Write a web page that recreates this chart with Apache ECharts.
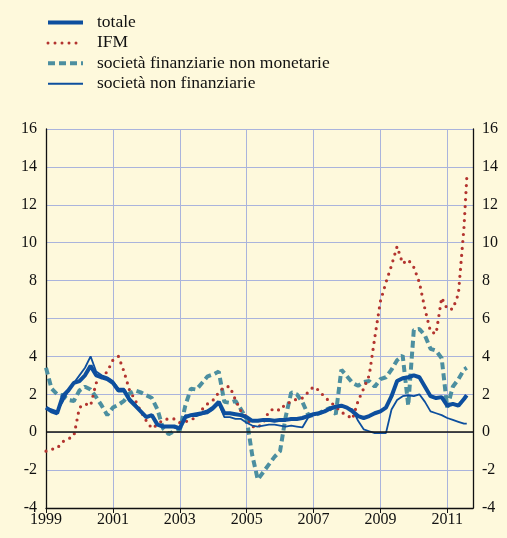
<!DOCTYPE html>
<html>
<head>
<meta charset="utf-8">
<script src="https://cdn.jsdelivr.net/npm/echarts@6/dist/echarts.min.js"></script>
<style>
html, body { margin: 0; padding: 0; background: #fef9dc; }
#main { width: 507px; height: 538px; }
</style>
</head>
<body>
<div id="main"></div>
<script>
// months since Jan 1999, sampled every two months up to Aug 2011
var startYear = 1999;
var months = [];
for (var m = 0; m <= 150; m += 2) months.push(m);
months.push(151);

var seriesNames = ['totale', 'IFM', 'società finanziarie non monetarie', 'società non finanziarie'];

var totale = [
    1.3, 1.1, 1.0, 1.9, 2.2, 2.6, 2.7, 3.0, 3.5, 3.0,
    2.9, 2.8, 2.6, 2.2, 2.2, 1.7, 1.4, 1.1, 0.8, 0.9,
    0.4, 0.3, 0.3, 0.3, 0.2, 0.8, 0.9, 0.95, 1.0, 1.1,
    1.3, 1.6, 1.0, 1.0, 0.95, 0.9, 0.8, 0.6, 0.6, 0.65,
    0.65, 0.6, 0.65, 0.65, 0.7, 0.7, 0.75, 0.85, 0.95, 1.0,
    1.1, 1.25, 1.35, 1.4, 1.3, 1.1, 0.85, 0.75, 0.85, 1.0,
    1.1, 1.3, 1.9, 2.7, 2.85, 2.9, 3.0, 2.9, 2.4, 1.9,
    1.8, 1.85, 1.4, 1.5, 1.4, 1.75, 1.95
];
var ifm = [
    -1.0, -0.9, -0.85, -0.5, -0.35, -0.2, 1.3, 1.5, 1.4, 2.6,
    2.9, 3.2, 3.8, 4.0, 3.2, 2.2, 1.7, 1.1, 0.6, 0.2,
    0.4, 0.65, 0.7, 0.7, 0.5, 0.55, 0.65, 0.8, 1.2, 1.5,
    1.7, 2.1, 2.4, 2.4, 1.7, 1.1, 0.8, 0.3, 0.25, 0.5,
    1.1, 1.25, 1.15, 1.5, 1.6, 1.75, 1.8, 2.1, 2.4, 2.2,
    1.85, 1.6, 1.35, 1.05, 0.9, 0.7, 1.65, 2.3, 3.0, 5.0,
    6.9, 7.9, 8.8, 9.8, 8.9, 9.1, 8.7, 7.9, 6.5, 5.3,
    5.2, 7.1, 6.5, 6.5, 7.3, 10.8, 13.4
];
var finNonMon = [
    3.4, 2.3, 2.0, 1.95, 1.7, 1.65, 2.2, 2.4, 2.25, 1.85,
    1.4, 0.9, 1.3, 1.45, 1.65, 2.05, 2.2, 2.1, 1.95, 1.8,
    1.2, 0.2, -0.1, 0.05, 0.1, 1.4, 2.3, 2.25, 2.6, 2.95,
    3.05, 3.2, 1.6, 1.55, 1.65, 1.2, 0.7, -1.2, -2.5, -2.1,
    -1.7, -1.3, -1.0, 0.8, 2.1, 2.0, 1.6, 0.95, 0.85, 1.0,
    1.15, 1.28, 0.95, 3.3, 2.95, 2.6, 2.45, 2.65, 2.7, 2.4,
    2.8, 2.9, 3.3, 3.8, 4.05, 1.4, 5.4, 5.45, 5.1, 4.4,
    4.3, 3.9, 1.3, 2.4, 2.8, 3.3, 3.4
];
var nonFin = [
    1.3, 1.2, 1.1, 1.6, 2.2, 2.6, 3.0, 3.4, 4.0, 3.2,
    3.0, 2.9, 2.7, 2.3, 2.3, 1.8, 1.5, 1.1, 0.8, 0.9,
    0.4, 0.3, 0.3, 0.25, 0.15, 0.9, 0.85, 0.85, 0.95, 1.0,
    1.2, 1.5, 0.8, 0.8, 0.7, 0.7, 0.5, 0.35, 0.3, 0.35,
    0.4, 0.4, 0.35, 0.3, 0.35, 0.3, 0.25, 0.75, 0.9, 1.0,
    1.1, 1.2, 1.3, 1.35, 1.3, 1.2, 0.6, 0.15, 0.05, -0.05,
    -0.05, -0.05, 1.2, 1.7, 1.9, 1.95, 1.9, 2.0, 1.6, 1.1,
    1.0, 0.9, 0.75, 0.65, 0.55, 0.45, 0.45
];

function toPairs(vals) {
    return vals.map(function (v, i) { return [months[i] / 12, v]; });
}

var blue = '#0d4f9e', red = '#b3342f', teal = '#4c8fa0';
var gridColor = '#aab4dc';
var font = 'Liberation Serif, Times New Roman, serif';

var myChart = echarts.init(document.getElementById('main'));

var yAxisBase = {
    type: 'value',
    min: -4,
    max: 16,
    interval: 2,
    axisLine: { show: true, lineStyle: { color: '#111', width: 1.3 } },
    axisTick: { show: false },
    axisLabel: { color: '#111', fontFamily: font, fontSize: 16, margin: 9 }
};

var option = {
    backgroundColor: '#fef9dc',
    animation: false,
    legend: {
        orient: 'vertical',
        left: 41,
        top: 8.5,
        itemWidth: 35,
        itemHeight: 14,
        itemGap: 2.4,
        itemStyle: { opacity: 0 },
        textStyle: { color: '#111', fontFamily: font, fontSize: 17.5, padding: [0, 0, 0, 9] },
        data: [
            { name: seriesNames[0], lineStyle: { width: 4 } },
            { name: seriesNames[1], lineStyle: { width: 3 } },
            { name: seriesNames[2], lineStyle: { width: 4 } },
            { name: seriesNames[3], lineStyle: { width: 2 } }
        ]
    },
    grid: { left: 46, right: 34, top: 129, bottom: 30 },
    xAxis: {
        type: 'value',
        min: 0,
        max: 12.77,
        interval: 2,
        axisLine: { show: true, onZero: false, lineStyle: { color: '#111', width: 1.3 } },
        axisTick: { show: true, length: 5, lineStyle: { color: '#111' } },
        axisLabel: {
            color: '#111', fontFamily: font, fontSize: 16, margin: 4,
            showMaxLabel: false,
            formatter: function (v) { return v % 2 === 0 ? String(startYear + v) : ''; }
        },
        splitLine: { show: true, lineStyle: { color: gridColor, width: 1 } }
    },
    yAxis: [
        Object.assign({}, yAxisBase, {
            position: 'left',
            splitLine: { show: true, lineStyle: { color: gridColor, width: 1 } }
        }),
        Object.assign({}, yAxisBase, {
            position: 'right',
            splitLine: { show: false }
        })
    ],
    series: [
        {
            name: seriesNames[2], type: 'line', symbol: 'none',
            data: toPairs(finNonMon),
            lineStyle: { color: teal, width: 4, type: [7, 4] },
            itemStyle: { color: teal }
        },
        {
            name: seriesNames[1], type: 'line', symbol: 'none',
            data: toPairs(ifm),
            lineStyle: { color: red, width: 3.2, type: [0, 7], cap: 'round' },
            itemStyle: { color: red }
        },
        {
            name: seriesNames[3], type: 'line', symbol: 'none',
            data: toPairs(nonFin),
            lineStyle: { color: blue, width: 1.8 },
            itemStyle: { color: blue }
        },
        {
            name: seriesNames[0], type: 'line', symbol: 'none',
            data: toPairs(totale),
            lineStyle: { color: blue, width: 4 },
            itemStyle: { color: blue },
            markLine: {
                silent: true,
                symbol: 'none',
                label: { show: false },
                lineStyle: { color: '#111', width: 1.5, type: 'solid' },
                data: [{ yAxis: 0 }]
            }
        }
    ]
};

myChart.setOption(option);
</script>
</body>
</html>
